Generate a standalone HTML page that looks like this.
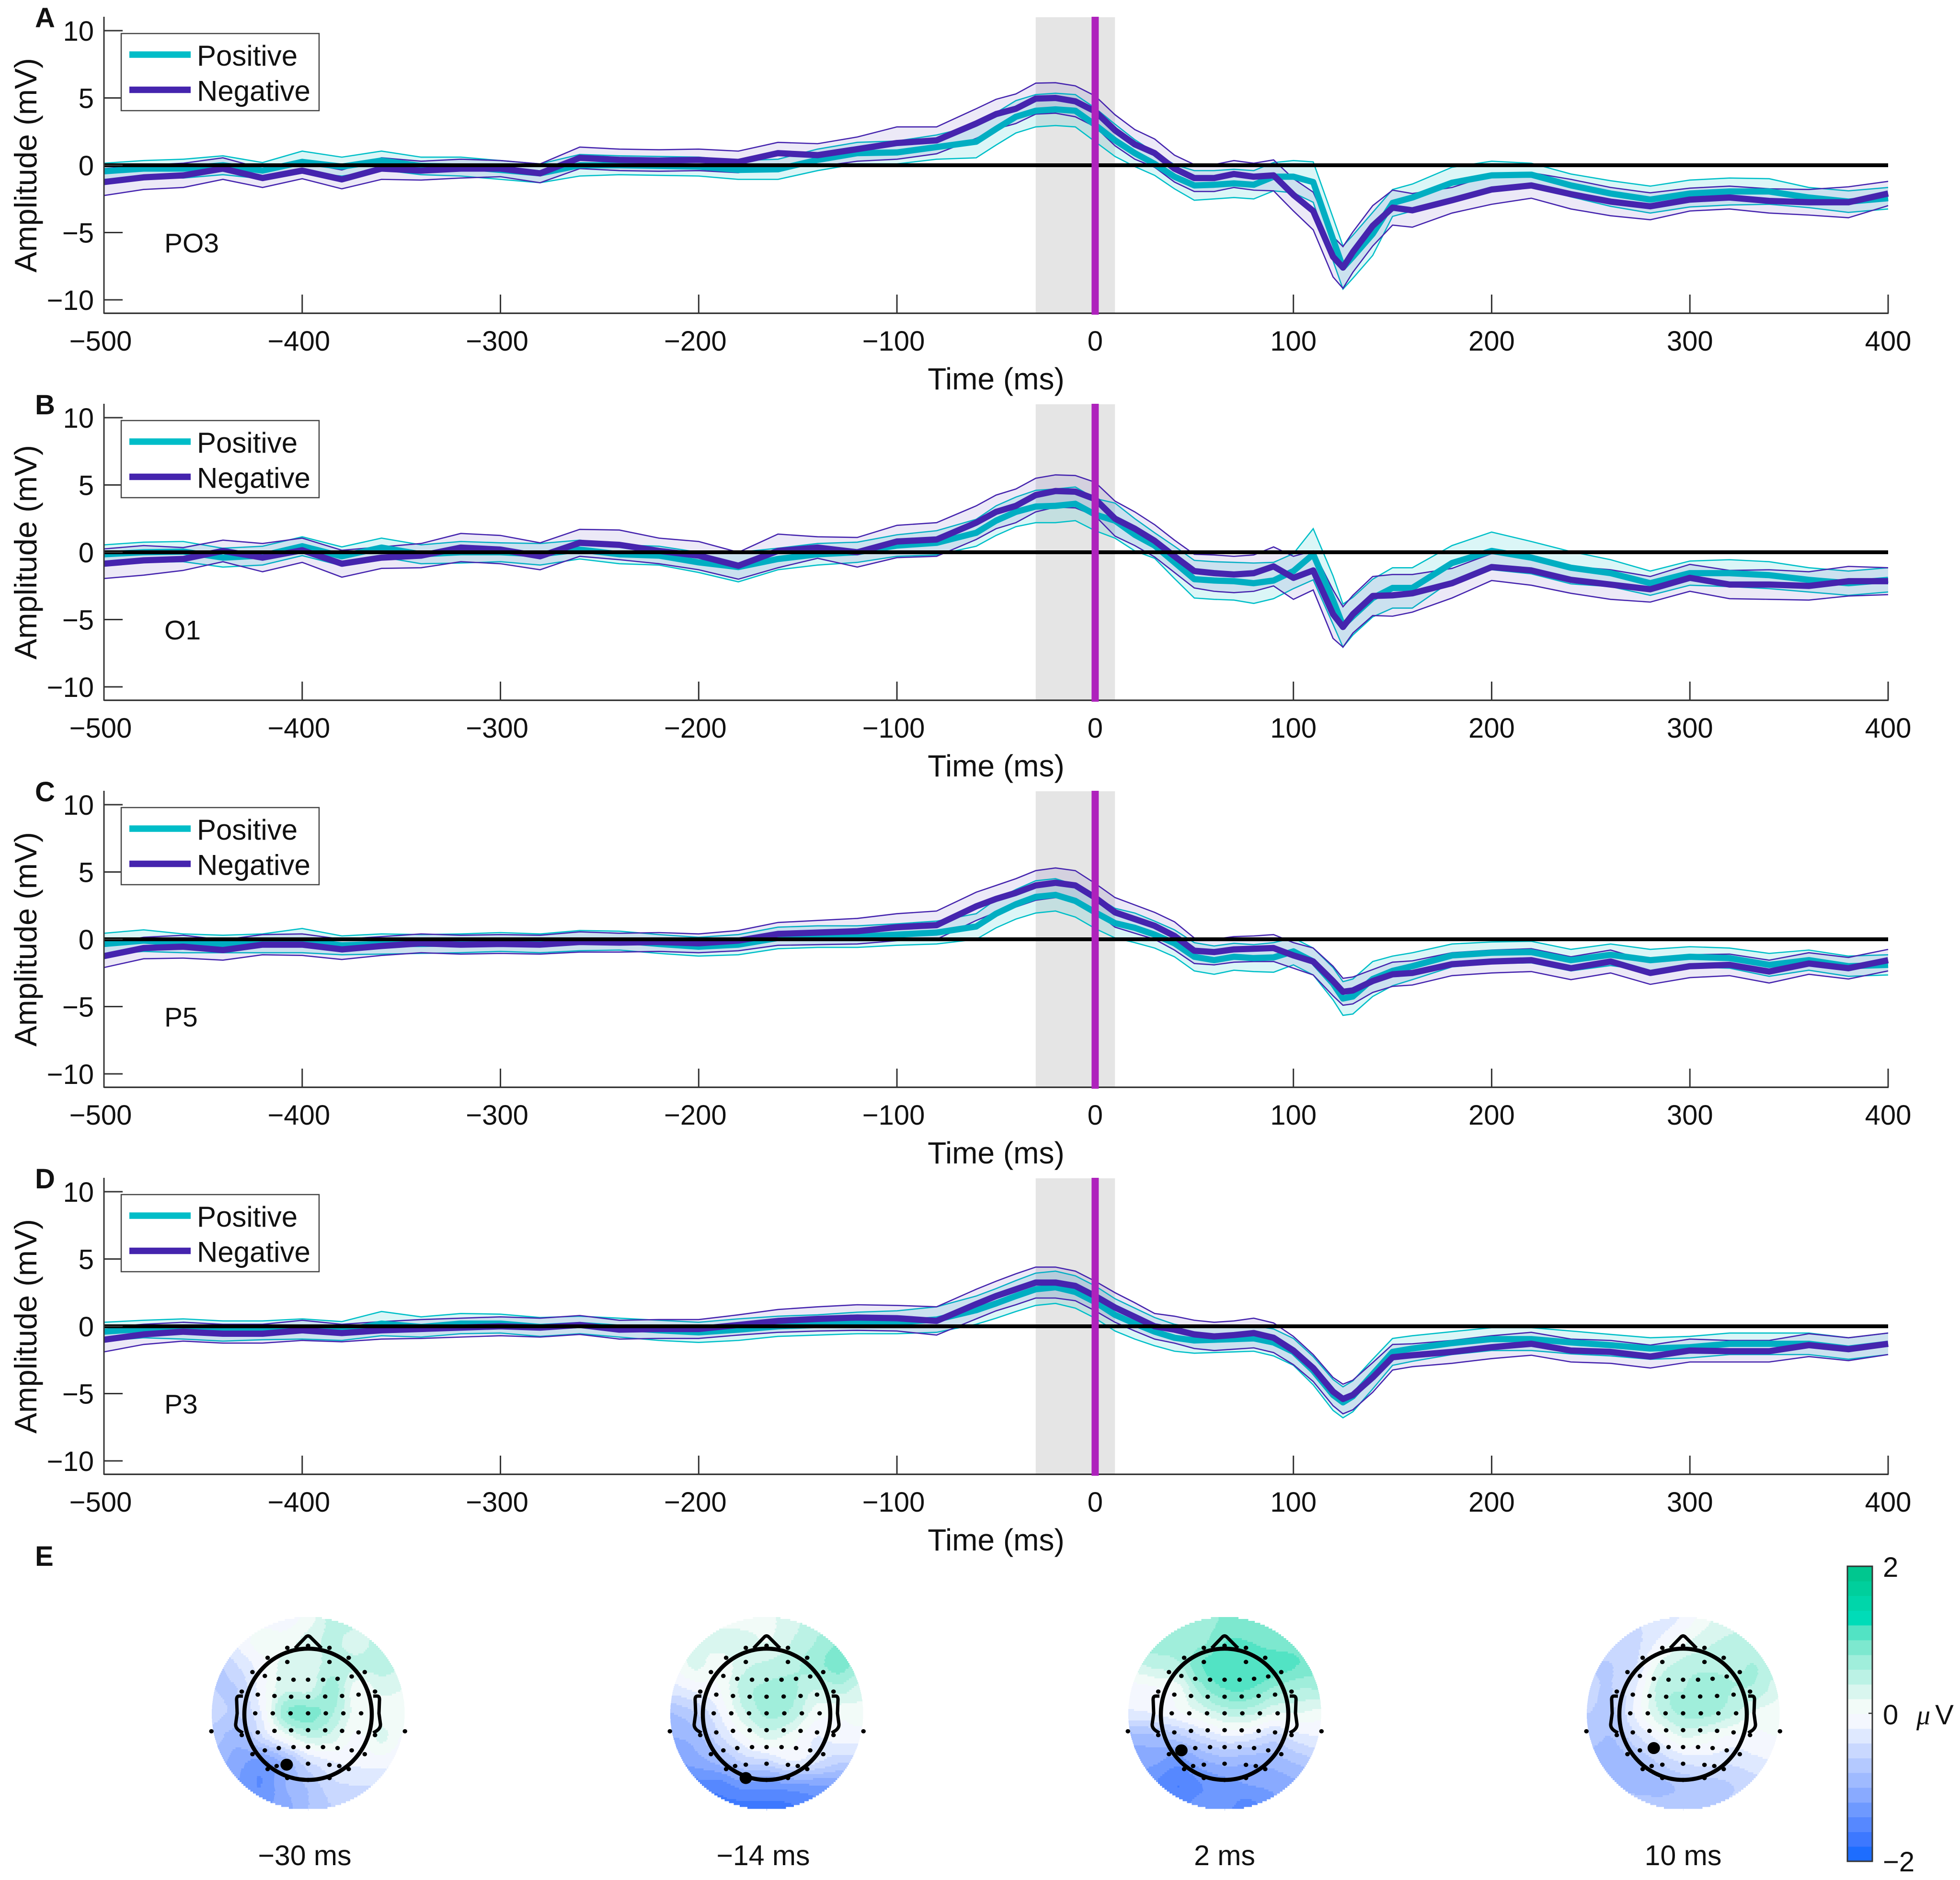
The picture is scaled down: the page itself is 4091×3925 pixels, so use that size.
<!DOCTYPE html>
<html lang="en">
<head>
<meta charset="utf-8">
<title>ERP amplitude by channel with topographic maps</title>
<style>
html,body{margin:0;padding:0;background:#fff;}
svg{display:block;}
text{font-family:"Liberation Sans",sans-serif;fill:#111;}
</style>
</head>
<body>
<svg id="figure" xmlns="http://www.w3.org/2000/svg" width="4091" height="3925" viewBox="0 0 4091 3925"></svg>
<script>
const times=[-500,-480,-460,-440,-420,-400,-380,-360,-340,-320,-300,-280,-260,-240,-220,-200,-180,-160,-140,-120,-100,-80,-60,-50,-40,-30,-20,-10,0,10,20,30,40,50,60,70,80,90,100,110,120,125,130,140,150,160,180,200,220,240,260,280,300,320,340,360,380,400];
const xTicks=[-500,-400,-300,-200,-100,0,100,200,300,400];
const yTicks=[-10,-5,0,5,10];
const channelNames=['PO3','O1','P5','P3'];
const panelLetters=['A','B','C','D'];
const seriesNames=['Positive','Negative'];

const po3PosMean=[-.45,-.25,-.25,0,-.4,.25,-.1,.35,-.05,-.1,-.35,-.6,0,0,-.05,-.1,-.35,-.3,.4,.9,.95,1.35,1.75,2.7,3.6,4.05,4.15,4.05,3.0,1.85,.9,.1,-.85,-1.5,-1.45,-1.35,-1.45,-.85,-.85,-1.25,-5.5,-7.6,-6.8,-5.1,-2.8,-2.4,-1.3,-.75,-.7,-1.5,-2.1,-2.55,-2.1,-1.95,-1.95,-2.4,-2.7,-2.45];
const po3PosSem=[.6,.6,.7,.7,.6,.8,.7,.7,.65,.7,.7,.7,.8,.7,.7,.7,.7,.75,.8,.8,.85,.9,1.2,1.2,1.2,1.2,1.2,1.2,1.25,1.2,1,.85,.9,1.1,1.05,1.05,1.05,1.05,1.2,1.5,1.6,1.6,1.6,1.6,1,1,1.15,1.05,.85,.85,.95,1,1,1,.95,.75,.8,.8];
const po3NegMean=[-1.25,-.9,-.75,-.25,-.95,-.4,-1.05,-.25,-.4,-.25,-.25,-.6,.55,.4,.35,.4,.25,.9,.75,1.2,1.65,1.85,3.1,3.8,4.2,4.95,5,4.75,4,2.6,1.55,.9,-.25,-.95,-.95,-.65,-.85,-.75,-2.2,-3.4,-6.8,-7.6,-6.45,-4.5,-3.15,-3.35,-2.6,-1.8,-1.5,-2.15,-2.7,-3.05,-2.55,-2.4,-2.65,-2.75,-2.75,-2.1];
const po3NegSem=[1,.9,.9,.8,.7,.6,.7,.8,.7,.7,.6,.7,.8,.8,.8,.8,.8,.8,.85,.9,1.2,1,1.1,1.1,1.1,1.15,1.13,1.15,1.15,1.15,1.1,1.05,1,1,1,1,1,1.15,1.2,1.4,1.5,1.55,1.5,1.5,1.3,1.25,.95,1.1,.95,1.1,1.05,1,.85,.85,.9,.95,1.15,.9];

const o1PosMean=[-.15,0,.05,-.4,-.25,.45,-.3,.35,-.15,0,0,-.15,.2,-.15,-.25,-.75,-1.1,-.5,-.15,0,.5,.7,1.45,2.35,3,3.4,3.45,3.6,2.8,2.35,1.3,.5,-.75,-2,-2.1,-2.15,-2.3,-2.1,-1.4,-.15,-3.55,-5.45,-4.75,-3.4,-2.65,-2.65,-.8,.1,-.4,-1.15,-1.55,-2.3,-1.55,-1.55,-1.7,-2.05,-2.3,-2.05];
const o1PosSem=[.7,.75,.75,.7,.7,.7,.7,.7,.7,.8,.7,.8,.7,.7,.7,.75,1.1,.8,.8,.75,.8,.9,1,1.1,1.1,1.2,1.25,1.25,1.2,1.3,1.2,.95,1.2,1.4,1.4,1.4,1.5,1.35,1.3,1.9,1.8,1.6,1.4,1.4,1.5,1.5,1.3,1.4,1.2,1.2,1,.9,.9,1,1,.9,.9,.9];
const o1NegMean=[-.85,-.6,-.5,.1,-.4,.15,-.85,-.4,-.25,.35,.2,-.3,.7,.55,.1,-.25,-1,.1,.35,0,.8,.95,2.2,3,3.45,4.25,4.55,4.5,3.95,2.5,1.75,.85,-.3,-1.4,-1.55,-1.65,-1.55,-1.05,-1.9,-1.35,-4.6,-5.55,-4.6,-3.25,-3.2,-3.05,-2.3,-1.1,-1.35,-2.05,-2.4,-2.75,-1.9,-2.4,-2.4,-2.5,-2.15,-2.15];
const o1NegSem=[1.1,1.1,.85,.8,1.05,.9,1,.8,.9,1.05,1.05,1,1,1.1,.95,1.05,1,1.25,.8,1.1,1.2,1.25,1.25,1.25,1.25,1.25,1.2,1.2,1.25,1.3,1.25,1.2,1.2,1.25,1.35,1.35,1.35,1.45,1.6,1.45,1.8,1.5,1.4,1.45,1.55,1.4,1.1,1,1.1,1,1.1,.95,1,1.05,1.1,1.05,1.1,1];

const p5PosMean=[-.35,-.1,-.3,-.35,-.3,-.1,-.45,-.35,-.35,-.3,-.2,-.3,-.1,-.1,-.35,-.55,-.4,.1,.2,.2,.35,.5,.95,1.9,2.6,3.15,3.3,2.85,2,1.2,.85,.35,-.3,-1.3,-1.55,-1.3,-1.4,-1.35,-.9,-1.65,-3.3,-4.4,-4.25,-2.95,-2.35,-2,-1.2,-1,-.95,-1.55,-1.15,-1.55,-1.3,-1.4,-1.9,-1.55,-2,-1.9];
const p5PosSem=[.8,.8,.7,.65,.7,.9,.7,.75,.7,.7,.7,.7,.75,.7,.7,.7,.75,.8,.8,.8,.8,.85,.95,1.05,1.1,1.2,1.2,1.2,1.2,1.1,1.1,1,1,1.05,1.05,1,1,1.1,1,1,1.2,1.25,1.3,1.3,1.1,1,.85,.8,.8,.8,.8,.8,.75,.75,.85,.75,.75,.75];
const p5NegMean=[-1.25,-.65,-.55,-.8,-.4,-.4,-.75,-.5,-.3,-.4,-.35,-.4,-.2,-.25,-.2,-.3,-.1,.4,.5,.6,.9,1.05,2.45,3,3.45,4,4.2,4,3.1,2,1.5,1,.25,-.85,-.95,-.75,-.7,-.65,-1.2,-1.65,-3.1,-3.9,-3.8,-3.1,-2.6,-2.5,-1.85,-1.65,-1.55,-2.15,-1.65,-2.5,-2,-1.9,-2.4,-1.8,-2.15,-1.55];
const p5NegSem=[.85,.8,.85,.75,.75,.8,.75,.7,.7,.7,.7,.7,.75,.7,.7,.7,.75,.85,.9,.95,1,1.05,1.05,1,1.05,1.1,1.1,1.1,1.05,1.1,1.05,1,1.05,.95,.95,.95,.95,1,.95,1,1.1,1,1,.85,.9,.9,.85,.85,.85,.85,.85,.85,.85,.8,.85,.8,.8,.8];

const p3PosMean=[-.4,-.2,-.2,-.35,-.3,-.2,-.35,.2,-.05,.2,.2,-.05,.1,-.1,-.3,-.45,-.25,0,.1,.25,.3,.5,1.2,1.7,2.25,2.75,2.9,2.55,1.8,.85,.2,-.4,-.85,-1.05,-1,-.95,-.9,-1.2,-1.9,-3.3,-5.1,-5.65,-5.2,-3.55,-1.9,-1.65,-1.25,-.95,-.95,-1.2,-1.4,-1.65,-1.55,-1.3,-1.3,-1.3,-1.65,-1.3];
const p3PosSem=[.7,.65,.75,.75,.7,.75,.7,.9,.75,.75,.7,.7,.65,.7,.75,.75,.8,.75,.75,.8,.85,.95,1.05,1.1,1.15,1.2,1.2,1.2,1.2,1.2,1.15,1.05,1,.95,.95,.95,.95,1,1,1.05,1.15,1.15,1.15,1.1,1,.95,.85,.85,.85,.85,.8,.8,.8,.8,.8,.8,.8,.8];
const p3NegMean=[-1,-.6,-.4,-.55,-.55,-.3,-.5,-.3,-.2,-.1,0,-.1,.1,-.25,-.2,-.2,.1,.4,.55,.65,.6,.4,1.65,2.25,2.75,3.25,3.25,3,2.25,1.4,.7,0,-.25,-.6,-.75,-.65,-.5,-.85,-1.8,-3.1,-4.85,-5.4,-5.1,-3.8,-2.3,-2.15,-1.9,-1.55,-1.3,-1.8,-1.9,-2.25,-1.8,-1.85,-1.85,-1.4,-1.7,-1.3];
const p3NegSem=[.9,.75,.7,.7,.7,.75,.65,.65,.7,.7,.7,.7,.7,.7,.7,.7,.75,.85,.9,.95,.95,1.05,1.1,1.1,1.15,1.15,1.15,1.1,1.1,1.1,1.05,.95,1,1.05,1.05,1.05,1.1,1.1,1.05,1,1.05,1.1,1.1,1.1,.95,.85,.85,.85,.85,.85,.85,.85,.85,.8,.8,.85,.85,.8];

const posMeans=[po3PosMean,o1PosMean,p5PosMean,p3PosMean];
const posSems=[po3PosSem,o1PosSem,p5PosSem,p3PosSem];
const negMeans=[po3NegMean,o1NegMean,p5NegMean,p3NegMean];
const negSems=[po3NegSem,o1NegSem,p5NegSem,p3NegSem];

const windowStart=-30;
const windowEnd=10;
const eventTime=0;

const topoLabels=['\u221230 ms','\u221214 ms','2 ms','10 ms'];
const topoA=[[-.1,-.1,-.1,-.1,.1,.5,.5,.5,.5],[-.3,-.15,.1,.1,.3,.45,.3,.5,.5],[-.7,-.4,-.1,.3,.3,.5,.45,.5,.4],[-.6,-.6,-.1,.35,.35,.7,.05,.25,.2],[-.55,-.6,-.2,.75,.9,.6,.1,.1,.1],[-.7,-.9,-.45,.05,.4,.3,-.05,.25,-.05],[-.9,-1.1,-1.25,-.9,-.4,-.2,-.15,-.1,-.2],[-1,-1.2,-1.4,-1,-.75,-.45,-.4,-.4,-.4],[-1,-1.1,-1.2,-1.1,-.8,-.6,-.5,-.5,-.5]];
const topoB=[[.2,.2,.1,.1,.15,.3,.5,.6,.6],[.2,.2,.3,.3,.2,.4,.6,.8,.8],[0,.25,.05,.35,.45,.55,.7,.9,.6],[-.3,-.15,0,.5,.65,.65,.4,.5,.3],[-.8,-.6,-.2,.35,.65,.55,.1,.05,.1],[-1,-.9,-.45,-.05,.25,.1,-.2,-.1,-.1],[-1.2,-1.1,-.9,-.55,-.45,-.2,-.35,-.55,-.5],[-1.6,-1.5,-1.5,-1.3,-1.3,-1.25,-1.2,-1.15,-1.1],[-1.8,-1.7,-1.65,-1.7,-1.7,-1.65,-1.5,-1.4,-1.3]];
const topoC=[[.8,.8,.7,.65,.85,.9,.9,.85,.8],[.7,.7,.7,.75,1,1,.9,.9,.85],[.3,.45,.55,1,1.15,1.2,1.15,1,.85],[-.1,-.05,.1,.7,1,1,.75,.6,.6],[-.25,-.2,-.05,.2,.45,.45,.2,.2,.1],[-.9,-.85,-.7,-.45,-.25,-.3,-.5,-.3,-.2],[-1.1,-1.15,-1.3,-1.05,-.9,-.95,-.9,-.75,-.6],[-1.3,-1.4,-1.6,-1.4,-1.3,-1.2,-1.15,-1.05,-1],[-1.35,-1.4,-1.4,-1.3,-1.35,-1.5,-1.25,-1.1,-1]];
const topoD=[[-.45,-.45,-.4,-.35,-.15,.15,.3,.35,.3],[-.55,-.5,-.45,-.15,.15,.35,.45,.45,.4],[-.6,-.6,-.4,.25,.5,.55,.55,.6,.4],[-.55,-.6,-.2,.5,.6,.7,.6,.55,.25],[-.6,-.65,-.15,.4,.65,.65,.45,.15,.1],[-.7,-.8,-.45,-.1,.2,.1,-.05,-.05,0],[-.9,-.9,-.8,-.55,-.35,-.3,-.35,-.25,-.2],[-.85,-.85,-.85,-.85,-.75,-.7,-.6,-.5,-.4],[-.7,-.7,-.7,-.7,-.7,-.65,-.55,-.5,-.4]];
const topoValues=[topoA,topoB,topoC,topoD];
const colorLevels=['#1d6dff','#3d78ff','#5688ff','#6e99ff','#89aaff','#9fbaff','#b4c9ff','#c9d8ff','#dfe9ff','#f4f7fe','#f2fbf8','#d9f6ef','#bbf2e5','#a0eedb','#7de8cf','#52e3c4','#00dcb8','#00d6aa','#00cf9c','#00c78f'];

const NS='http://www.w3.org/2000/svg';
const root=document.getElementById('figure');
const POS='#00bfc8', NEG='#4524ae';
const X0=217, X1=3941, PANEL_STEP=808;

function xScale(t){return X0+(t-xTicks[0])/(xTicks[xTicks.length-1]-xTicks[0])*(X1-X0);}
function yScale(v,p){return 345+p*PANEL_STEP-v*28.1;}
function fmt(v){return v<0?'\u2212'+Math.abs(v):String(v);}
function make(tag,attrs,parent){
  const el=document.createElementNS(NS,tag);
  for(const k in attrs){el.setAttribute(k,attrs[k]);}
  (parent||root).appendChild(el);
  return el;
}
function linePath(vals,p){
  return vals.map((v,i)=>(i?'L':'M')+xScale(times[i]).toFixed(1)+' '+yScale(v,p).toFixed(1)).join('');
}
function bandPath(mean,sem,p){
  const up=mean.map((m,i)=>m+sem[i]);
  const lo=mean.map((m,i)=>m-sem[i]);
  let d=linePath(up,p);
  for(let i=lo.length-1;i>=0;i--){d+='L'+xScale(times[i]).toFixed(1)+' '+yScale(lo[i],p).toFixed(1);}
  return d+'Z';
}

function drawSeries(g,mean,sem,color,alpha,p,key){
  const band=make('path',{d:bandPath(mean,sem,p),fill:color,'fill-opacity':alpha,stroke:'none'},g);
  
  
  const up=make('path',{d:linePath(mean.map((m,i)=>m+sem[i]),p),fill:'none',stroke:color,'stroke-width':2.6},g);
  
  
  const lo=make('path',{d:linePath(mean.map((m,i)=>m-sem[i]),p),fill:'none',stroke:color,'stroke-width':2.6},g);
  
  
}

channelNames.forEach((ch,p)=>{
  const off=p*PANEL_STEP;
  const g=make('g',{});
  
  

  const win=make('rect',{x:xScale(windowStart),y:36+off,width:xScale(windowEnd)-xScale(windowStart),height:618,fill:'#e5e5e5'},g);
  
  

  drawSeries(g,posMeans[p],posSems[p],POS,.14,p,'positive');
  drawSeries(g,negMeans[p],negSems[p],NEG,.1,p,'negative');

  const mp=make('path',{d:linePath(posMeans[p],p),fill:'none',stroke:'#00aec2','stroke-width':13,'stroke-linejoin':'round'},g);
  
  
  const mn=make('path',{d:linePath(negMeans[p],p),fill:'none',stroke:NEG,'stroke-width':13,'stroke-linejoin':'round'},g);
  
  

  const zero=make('line',{x1:X0,x2:X1,y1:yScale(0,p),y2:yScale(0,p),stroke:'#000','stroke-width':8},g);
  
  

  const ya=make('line',{x1:X0,x2:X0,y1:35+off,y2:655+off,stroke:'#333','stroke-width':3},g);
  
  
  const xa=make('line',{x1:X0,x2:X1+1,y1:654+off,y2:654+off,stroke:'#222','stroke-width':3},g);
  
  

  xTicks.forEach(t=>{
    const tk=make('line',{x1:xScale(t),x2:xScale(t),y1:615+off,y2:654+off,stroke:'#333','stroke-width':3},g);
    
    
    const lb=make('text',{x:xScale(t)-(t<0?7:0),y:732+off,'text-anchor':'middle','font-size':58},g);
    lb.textContent=fmt(t);
    
    
  });
  yTicks.forEach(v=>{
    const tk=make('line',{x1:X0,x2:X0+39,y1:yScale(v,p),y2:yScale(v,p),stroke:'#333','stroke-width':3},g);
    
    
    const lb=make('text',{x:196,y:yScale(v,p)+21,'text-anchor':'end','font-size':58},g);
    lb.textContent=fmt(v);
    
    
  });

  const ev=make('line',{x1:xScale(eventTime),x2:xScale(eventTime),y1:35+off,y2:657+off,stroke:'#ae22bc','stroke-width':15},g);
  
  

  const xt=make('text',{x:2079,y:813+off,'text-anchor':'middle','font-size':64},g);
  xt.textContent='Time (ms)';
  
  

  const yt=make('text',{x:0,y:0,'text-anchor':'middle','font-size':65,transform:'translate(76 '+(345+off)+') rotate(-90)'},g);
  yt.textContent='Amplitude (mV)';
  
  

  const pl=make('text',{x:73,y:57+off,'font-size':58,'font-weight':'bold'},g);
  pl.textContent=panelLetters[p];
  
  

  const cl=make('text',{x:343,y:527+off,'font-size':57},g);
  cl.textContent=ch;
  
  

  const lg=make('g',{},g);
  
  
  const box=make('rect',{x:253,y:70+off,width:413,height:161,fill:'#fff',stroke:'#444','stroke-width':2.5},lg);
  
  
  seriesNames.forEach((s,i)=>{
    const ly=114+i*73.5+off;
    const sw=make('line',{x1:270,x2:398,y1:ly,y2:ly,stroke:i?NEG:'#00bdc8','stroke-width':13.5},lg);
    
    
    const tx=make('text',{x:411,y:ly+23,'font-size':60},lg);
    tx.textContent=s;
    
    
  });
});

const eLetter=make('text',{x:73,y:3269,'font-size':58,'font-weight':'bold'});
eLetter.textContent='E';



/* topographic maps */
const topoCenters=[643,1600,2556,3513];
const TOPO_Y=3577, TOPO_R=201, NODE=50;
const electrodeRef=[[560,427],[757,427],
[455,500],[520,515],[589,520],[657,520],[727,520],[795,515],[861,503],
[422,598],[500,605],[578,609],[657,609],[737,608],[816,605],[893,598],
[410,696],[492,696],[575,696],[657,696],[740,696],[822,696],[905,696],
[422,796],[500,788],[578,785],[657,784],[737,785],[816,788],[893,796],
[455,890],[520,878],[589,873],[657,873],[727,873],[795,878],[861,890],
[510,972],[560,965],[657,960],[757,966],[803,972],
[560,353],[757,353],[468,405],[847,405],[397,480],[922,480],[347,582],[970,582],[347,810],[970,810],[397,910],[922,910],[468,988],[847,988],[560,1035],[757,1035],[657,1045],[657,342],[205,790],[1110,790]];
const selectedRef=[[557,965],[560,1035],[455,890],[520,878]];

function cr(a,b,c,d,t){return b+.5*t*(c-a+t*(2*a-5*b+4*c-d+t*(3*(b-c)+d-a)));}
function sampleTopo(grid,dx,dy){
  const fx=Math.min(7.999,Math.max(0,(dx+200)/NODE));
  const fy=Math.min(7.999,Math.max(0,(dy+200)/NODE));
  const ix=Math.floor(fx), iy=Math.floor(fy);
  const row=j=>{
    const r=grid[Math.min(8,Math.max(0,j))];
    const at=k=>r[Math.min(8,Math.max(0,k))];
    return cr(at(ix-1),at(ix),at(ix+1),at(ix+2),fx-ix);
  };
  return cr(row(iy-1),row(iy),row(iy+1),row(iy+2),fy-iy);
}
function levelOf(v){
  const n=colorLevels.length;
  return Math.max(0,Math.min(n-1,Math.floor((v+2)/4*n)));
}

topoValues.forEach((grid,n)=>{
  const cx=topoCenters[n];
  const g=make('g',{});
  
  
  const cell=4;
  for(let dy=-TOPO_R;dy<TOPO_R;dy+=cell){
    const half=Math.sqrt(Math.max(0,TOPO_R*TOPO_R-(dy+cell/2)*(dy+cell/2)));
    let start=-half, cur=null;
    for(let dx=-half;dx<=half+cell;dx+=cell){
      const lv=dx>half?-1:levelOf(sampleTopo(grid,dx,dy+cell/2));
      if(cur===null){cur=lv;start=dx;}
      if(lv!==cur){
        const r=make('rect',{x:(cx+start).toFixed(1),y:TOPO_Y+dy,width:Math.min(dx,half)-start+.6,height:cell+.3,fill:colorLevels[cur],'shape-rendering':'crispEdges'},g);
        
        
        cur=lv;start=dx;
      }
    }
  }
  const hy=TOPO_Y+2;
  const head=make('ellipse',{cx:cx,cy:hy,rx:133,ry:137,fill:'none',stroke:'#000','stroke-width':8.5},g);
  
  
  const nose=make('path',{d:'M'+(cx-27)+' '+(TOPO_Y-136)+'L'+(cx-4)+' '+(TOPO_Y-160)+'Q'+cx+' '+(TOPO_Y-163)+' '+(cx+4)+' '+(TOPO_Y-160)+'L'+(cx+28)+' '+(TOPO_Y-136),fill:'none',stroke:'#000','stroke-width':7,'stroke-linejoin':'round'},g);
  
  
  [-1,1].forEach(side=>{
    const px=v=>cx+side*v;
    const ear=make('path',{d:'M'+px(136)+' '+(TOPO_Y-36)+'L'+px(144)+' '+(TOPO_Y-36)+'Q'+px(150)+' '+(TOPO_Y-36)+' '+px(149)+' '+(TOPO_Y-26)+'L'+px(148)+' '+TOPO_Y+'L'+px(151)+' '+(TOPO_Y+22)+'Q'+px(152)+' '+(TOPO_Y+30)+' '+px(144)+' '+(TOPO_Y+36)+'L'+px(136)+' '+(TOPO_Y+41),fill:'none',stroke:'#000','stroke-width':7,'stroke-linejoin':'round'},g);
    
    
  });
  electrodeRef.forEach(e=>{
    const d=make('ellipse',{cx:cx+(e[0]-657)/2.24,cy:TOPO_Y+(e[1]-696)/2.509,rx:4.8,ry:4.5,fill:'#000'},g);
    
    
  });
  const s=selectedRef[n];
  const sel=make('ellipse',{cx:cx+(s[0]-657)/2.24,cy:TOPO_Y+(s[1]-696)/2.509,rx:13,ry:12.5,fill:'#000'},g);
  
  
  const lb=make('text',{x:cx-(n<2?7:0),y:3894,'text-anchor':'middle','font-size':59},g);
  lb.textContent=topoLabels[n];
  
  
});

/* colorbar */
const cbg=make('g',{});


const CB_TOP=3270, CB_H=616;
colorLevels.forEach((c,i)=>{
  const h=CB_H/colorLevels.length;
  const r=make('rect',{x:3856,y:CB_TOP+CB_H-(i+1)*h,width:52,height:h+.5,fill:c,'shape-rendering':'crispEdges'},cbg);
  
  
});
const cbBox=make('rect',{x:3856,y:CB_TOP,width:52,height:CB_H,fill:'none',stroke:'#333','stroke-width':3},cbg);


const cbTick=make('line',{x1:3900,x2:3908,y1:3577,y2:3577,stroke:'#333','stroke-width':2.5},cbg);


[['2',3930,3292],['0',3930,3600],['\u22122',3930,3907]].forEach(t=>{
  const tx=make('text',{x:t[1],y:t[2],'font-size':58},cbg);
  tx.textContent=t[0];
  
  
});
const unit=make('text',{x:4000,y:3600,'font-size':58},cbg);


const mu=make('tspan',{'font-family':'"Liberation Serif",serif','font-style':'italic'},unit);
mu.textContent='\u03bc';
const vv=make('tspan',{dx:10},unit);
vv.textContent='V';
</script>
</body>
</html>
